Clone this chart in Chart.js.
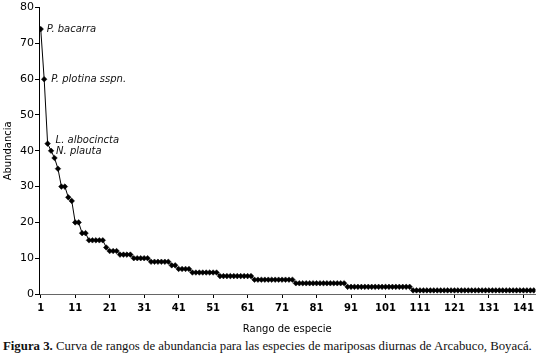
<!DOCTYPE html>
<html>
<head>
<meta charset="utf-8">
<script src="https://cdn.jsdelivr.net/npm/chart.js@4/dist/chart.umd.min.js"></script>
<style>
  html, body { margin: 0; padding: 0; background: #fff; }
  #wrap { position: relative; width: 540px; height: 335px; }
  #caption {
    font-family: "Liberation Serif", "DejaVu Serif", serif;
    font-size: 12.8px; line-height: 14px; color: #111;
    margin: 4px 0 0 3px; white-space: nowrap;
  }
</style>
</head>
<body>
<div id="wrap"><canvas id="chart" width="540" height="335"></canvas></div>
<div id="caption"><b>Figura 3.</b> Curva de rangos de abundancia para las especies de mariposas diurnas de Arcabuco, Boyacá.</div>
<script>
// abundancia por rango (1..144)
const ABUNDANCIA = [
  74, 60, 42, 40, 38, 35, 30, 30, 27, 26,
  20, 20, 17, 17, 15, 15, 15, 15, 15, 13,
  12, 12, 12, 11, 11, 11, 11, 10, 10, 10,
  10, 10, 9, 9, 9, 9, 9, 9, 8, 8,
  7, 7, 7, 7, 6, 6, 6, 6, 6, 6,
  6, 6, 5, 5, 5, 5, 5, 5, 5, 5,
  5, 5, 4, 4, 4, 4, 4, 4, 4, 4,
  4, 4, 4, 4, 3, 3, 3, 3, 3, 3,
  3, 3, 3, 3, 3, 3, 3, 3, 3, 2,
  2, 2, 2, 2, 2, 2, 2, 2, 2, 2,
  2, 2, 2, 2, 2, 2, 2, 2, 1, 1,
  1, 1, 1, 1, 1, 1, 1, 1, 1, 1,
  1, 1, 1, 1, 1, 1, 1, 1, 1, 1,
  1, 1, 1, 1, 1, 1, 1, 1, 1, 1,
  1, 1, 1, 1
];
const RANGO_TICKS = [1, 11, 21, 31, 41, 51, 61, 71, 81, 91, 101, 111, 121, 131, 141];
const Y_TICKS = [0, 10, 20, 30, 40, 50, 60, 70, 80];
const ESPECIES = ['P. bacarra', 'P. plotina sspn.', 'L. albocincta', 'N. plauta'];
const ESPECIES_RANGO = [1, 2, 3, 4];

const puntos = ABUNDANCIA.map((v, i) => ({ x: i + 1, y: v }));

// nombres de especies junto a los primeros puntos
const etiquetas = {
  id: 'etiquetas',
  afterDatasetsDraw(chart) {
    const { ctx, scales: { x, y } } = chart;
    ctx.save();
    ctx.font = 'italic 10px "DejaVu Sans", sans-serif';
    ctx.fillStyle = '#111';
    ctx.textBaseline = 'middle';
    const offs = [[6, 0], [7, 0], [8, -3], [5, 1]];
    ESPECIES.forEach((nombre, i) => {
      const r = ESPECIES_RANGO[i];
      const px = x.getPixelForValue(r) + offs[i][0];
      const py = y.getPixelForValue(ABUNDANCIA[r - 1]) + offs[i][1];
      ctx.fillText(nombre, px, py);
    });
    ctx.restore();
  }
};

new Chart(document.getElementById('chart').getContext('2d'), {
  type: 'line',
  data: {
    datasets: [{
      data: puntos,
      borderColor: '#000',
      borderWidth: 1,
      pointStyle: 'rectRot',
      pointRadius: 2.8,
      pointBackgroundColor: '#000',
      pointBorderColor: '#000',
      pointBorderWidth: 0.5,
      tension: 0
    }]
  },
  options: {
    responsive: false,
    animation: false,
    events: [],
    layout: { padding: { top: 5, right: 2, left: 0, bottom: 0 } },
    plugins: { legend: { display: false }, tooltip: { enabled: false } },
    scales: {
      x: {
        type: 'linear',
        min: 0.5,
        max: 144.5,
        afterBuildTicks: s => { s.ticks = RANGO_TICKS.map(v => ({ value: v })); },
        afterFit: s => { s.height = 41; },
        grid: { drawOnChartArea: false, drawTicks: true, tickLength: 4, color: '#000' },
        border: { color: '#666', dash: [1, 1], width: 1 },
        ticks: { color: '#000', font: { family: '"DejaVu Sans"', size: 10, weight: 'bold' }, padding: 4, maxRotation: 0, autoSkip: false },
        title: { display: true, text: 'Rango de especie', color: '#000', font: { family: '"DejaVu Sans"', size: 10 }, padding: { top: 2, bottom: 0 } }
      },
      y: {
        min: 0,
        max: 80,
        afterBuildTicks: s => { s.ticks = Y_TICKS.map(v => ({ value: v })); },
        afterFit: s => { s.width = 39; },
        grid: { drawOnChartArea: false, drawTicks: true, tickLength: 4, color: '#000' },
        border: { color: '#000', width: 1 },
        ticks: { color: '#000', font: { family: '"DejaVu Sans"', size: 11 }, padding: 1 },
        title: { display: true, text: 'Abundancia', color: '#000', font: { family: '"DejaVu Sans"', size: 10 }, padding: { top: 2, bottom: 0 } }
      }
    }
  },
  plugins: [etiquetas]
});
</script>
</body>
</html>
